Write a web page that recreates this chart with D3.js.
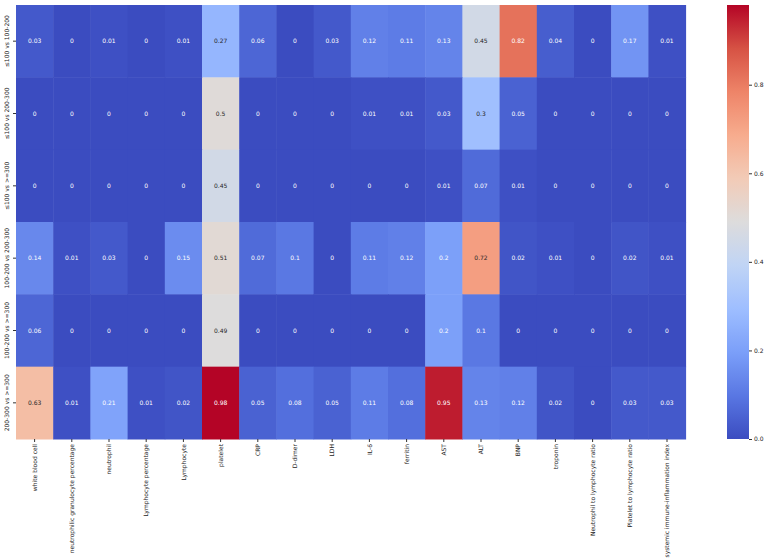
<!DOCTYPE html>
<html><head><meta charset="utf-8">
<script src="https://cdn.jsdelivr.net/npm/d3@7"></script>
<style>body{margin:0;background:#fff}svg{display:block}text{font-family:"DejaVu Sans",sans-serif}</style>
</head><body><svg id="c" width="767" height="560"></svg>
<script>
const columns = ["white blood cell","neutrophilic granulocyte percentage","neutrophil","Lymphocyte percentage","Lymphocyte","platelet","CRP","D-dimer","LDH","IL-6","ferritin","AST","ALT","BNP","troponin","Neutrophil to lymphocyte ratio","Platelet to lymphocyte ratio","systemic immune-inflammation index"];
const rows = ["≤100 vs 100-200","≤100 vs 200-300","≤100 vs >=300","100-200 vs 200-300","100-200 vs >=300","200-300 vs >=300"];
const row1 = [0.03,0,0.01,0,0.01,0.27,0.06,0,0.03,0.12,0.11,0.13,0.45,0.82,0.04,0,0.17,0.01];
const row2 = [0,0,0,0,0,0.5,0,0,0,0.01,0.01,0.03,0.3,0.05,0,0,0,0];
const row3 = [0,0,0,0,0,0.45,0,0,0,0,0,0.01,0.07,0.01,0,0,0,0];
const row4 = [0.14,0.01,0.03,0,0.15,0.51,0.07,0.1,0,0.11,0.12,0.2,0.72,0.02,0.01,0,0.02,0.01];
const row5 = [0.06,0,0,0,0,0.49,0,0,0,0,0,0.2,0.1,0,0,0,0,0];
const row6 = [0.63,0.01,0.21,0.01,0.02,0.98,0.05,0.08,0.05,0.11,0.08,0.95,0.13,0.12,0.02,0,0.03,0.03];
const values = [row1,row2,row3,row4,row5,row6];
const colorbarTicks = [0,0.2,0.4,0.6,0.8];
const coolwarm = ["#3b4cc0","#5977e3","#7b9ff9","#9ebeff","#c0d4f5","#dddcdc","#f2cbb7","#f7ac8e","#ee8468","#d65244","#b40426"];

const vmin = 0, vmax = d3.max(values.flat());
const color = d3.scaleLinear()
  .domain(coolwarm.map((c,i)=>vmin + (vmax-vmin)*i/(coolwarm.length-1)))
  .range(coolwarm).interpolate(d3.interpolateRgb).clamp(true);

const svg = d3.select("#c");
const L = 16, R = 685.6, T = 5, B = 439;
const x = d3.scaleBand().domain(columns).range([L,R]).padding(0);
const y = d3.scaleBand().domain(rows).range([T,B]).padding(0);

const cells = [];
values.forEach((r,i)=>r.forEach((v,j)=>cells.push({row:rows[i],col:columns[j],v})));

function lum(c){
  const rgb = d3.rgb(c);
  const f = u=>{u/=255;return u<=0.03928?u/12.92:Math.pow((u+0.055)/1.055,2.4);};
  return 0.2126*f(rgb.r)+0.7152*f(rgb.g)+0.0722*f(rgb.b);
}

svg.append("g").selectAll("rect").data(cells).join("rect")
  .attr("x",d=>x(d.col)).attr("y",d=>y(d.row))
  .attr("width",x.bandwidth()+0.5).attr("height",y.bandwidth()+0.5)
  .attr("fill",d=>color(d.v));

svg.append("g").selectAll("text").data(cells).join("text")
  .attr("x",d=>x(d.col)+x.bandwidth()/2).attr("y",d=>y(d.row)+y.bandwidth()/2)
  .attr("text-anchor","middle").attr("dy","0.35em")
  .attr("font-size",6)
  .attr("fill",d=>lum(color(d.v))>0.408?"#262626":"#ffffff")
  .text(d=>String(d.v));

// x axis
const gx = svg.append("g").attr("transform",`translate(0,${B})`)
  .call(d3.axisBottom(x).tickSize(3).tickPadding(2));
gx.select(".domain").remove();
gx.selectAll(".tick line").attr("stroke","#333");
gx.selectAll(".tick text").attr("font-size",6).attr("fill","#222")
  .attr("transform","rotate(-90)").attr("text-anchor","end")
  .attr("x",-5).attr("y",0).attr("dy","0.35em");

// y axis
const gy = svg.append("g").attr("transform",`translate(${L},0)`)
  .call(d3.axisLeft(y).tickSize(3).tickPadding(2));
gy.select(".domain").remove();
gy.selectAll(".tick line").attr("stroke","#333");
gy.selectAll(".tick text").attr("font-size",6).attr("fill","#222")
  .attr("transform","rotate(-90)").attr("text-anchor","middle")
  .attr("x",0).attr("y",-7).attr("dy","0");

// colorbar
const cbX = 727, cbW = 22;
const cy = d3.scaleLinear().domain([vmin,vmax]).range([B,T]);
const defs = svg.append("defs");
const grad = defs.append("linearGradient").attr("id","cb").attr("x1",0).attr("y1",1).attr("x2",0).attr("y2",0);
d3.range(0,1.0001,0.02).forEach(t=>grad.append("stop").attr("offset",t).attr("stop-color",color(vmin+t*(vmax-vmin))));
svg.append("rect").attr("x",cbX).attr("y",T).attr("width",cbW).attr("height",B-T).attr("fill","url(#cb)");
const gc = svg.append("g").attr("transform",`translate(${cbX+cbW},0)`)
  .call(d3.axisRight(cy).tickValues(colorbarTicks).tickFormat(d3.format(".1f")).tickSize(3).tickPadding(2));
gc.select(".domain").remove();
gc.selectAll(".tick line").attr("stroke","#333");
gc.selectAll(".tick text").attr("font-size",6).attr("fill","#222");
</script></body></html>
